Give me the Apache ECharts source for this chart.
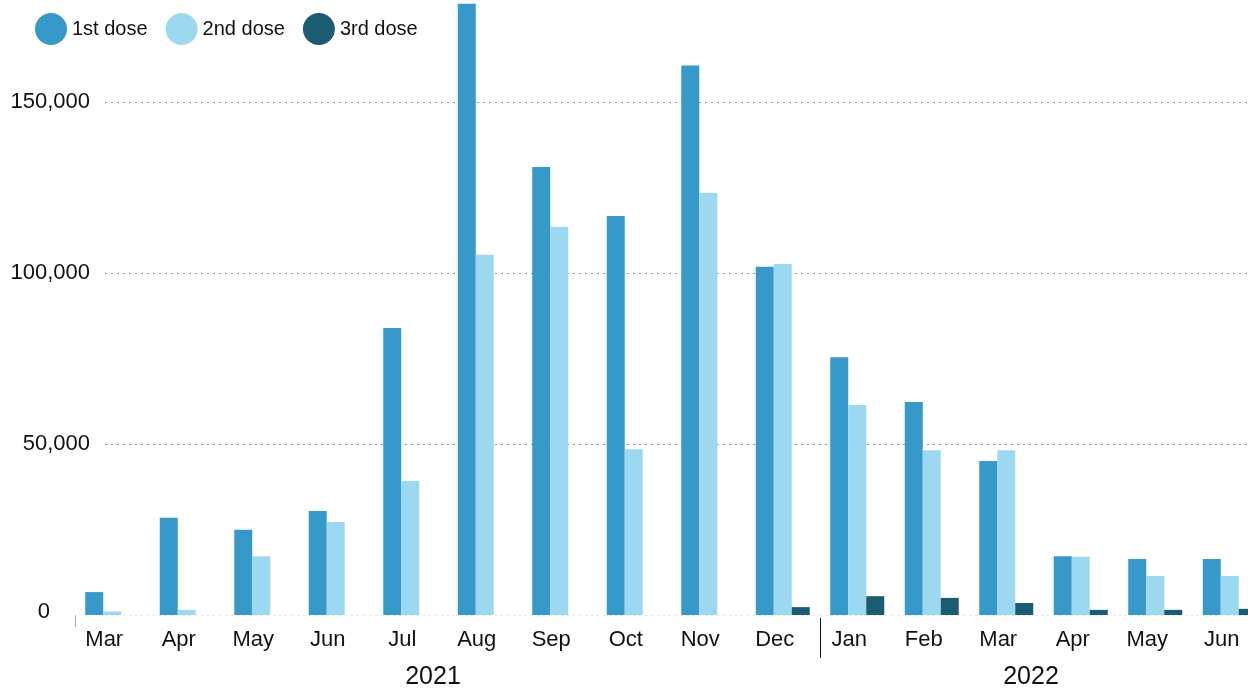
<!DOCTYPE html>
<html><head><meta charset="utf-8">
<script src="https://cdn.jsdelivr.net/npm/echarts@6/dist/echarts.min.js"></script>
<style>html,body{margin:0;padding:0;background:#fff}#c{width:1248px;height:688px}</style>
</head><body><div id="c"></div>
<script>
const months = ['Mar','Apr','May','Jun','Jul','Aug','Sep','Oct','Nov','Dec','Jan','Feb','Mar','Apr','May','Jun'];
const years = ['2021','2022'];
const seriesNames = ['1st dose','2nd dose','3rd dose'];
const dose1 = [6700, 28400, 24900, 30400, 83900, 178700, 131000, 116700, 160700, 101800, 75400, 62300, 45000, 17200, 16400, 16400];
const dose2 = [1000, 1500, 17200, 27200, 39200, 105300, 113500, 48500, 123400, 102600, 61400, 48200, 48200, 17000, 11400, 11400];
const dose3 = [null, null, null, null, null, null, null, null, null, 2300, 5500, 5000, 3500, 1500, 1500, 1800];
const yMax = 200000, yStep = 50000;
const yearStartIndex = 10; // first month of 2022

// boundary positions between month categories (0..n)
const boundaries = months.map((m, i) => String(i)).concat(String(months.length));

const FONT = "'Liberation Sans', Arial, Helvetica, sans-serif";
const chart = echarts.init(document.getElementById('c'), null, {renderer:'canvas'});
const GRID_TOP = -69, GRID_BOTTOM = 73;
const option = {
  animation:false,
  textStyle:{fontFamily:FONT},
  color:['#3799ca','#9cd8f0','#1a5c72'],
  legend:{left:30, top:8, icon:'circle', itemWidth:32, itemHeight:32, itemGap:18,
    textStyle:{fontSize:20,color:'#111',fontFamily:FONT}, data:seriesNames},
  grid:[
    {left:75,right:-19,top:GRID_TOP,bottom:GRID_BOTTOM,outerBoundsMode:'none',containLabel:false},
    {left:105,right:0,top:GRID_TOP,bottom:GRID_BOTTOM,outerBoundsMode:'none',containLabel:false}
  ],
  xAxis:[
    {type:'category',gridIndex:0,data:months,axisLine:{show:false},offset:5,
     axisTick:{show:true,interval:(i)=>i===0,length:12,lineStyle:{color:'#aaa'}},
     axisLabel:{fontSize:22,color:'#111',margin:9,padding:[0,16,0,0],interval:0,fontFamily:FONT}},
    {type:'category',gridIndex:0,data:boundaries,boundaryGap:false,position:'bottom',offset:3,axisLine:{show:false},axisLabel:{show:false},
     axisTick:{show:true,interval:(i)=>i===yearStartIndex,length:40,lineStyle:{color:'#111'}}},
    {type:'value',gridIndex:1,show:false,min:0,max:1}
  ],
  yAxis:[
    {type:'value',gridIndex:0,min:0,max:yMax,interval:yStep,show:false},
    {type:'value',gridIndex:1,min:0,max:yMax,interval:yStep,axisLine:{show:false},axisTick:{show:false},
     splitLine:{lineStyle:{type:[2,4],width:1.2,color:['#e4e4e4','#999','#999','#999','#999']}},
     axisLabel:{fontSize:22,color:'#111',margin:15,showMaxLabel:false,fontFamily:FONT,
       formatter:(v)=> v===0?'{z|0}':v.toLocaleString('en-US'),
       rich:{z:{fontSize:22,color:'#111',fontFamily:FONT,padding:[0,40,6,0]}}}}
  ],
  graphic:[
    {type:'text',x:433,y:677,style:{text:years[0],fontSize:25,fill:'#111',fontFamily:FONT,textAlign:'center',verticalAlign:'middle',textVerticalAlign:'middle'}},
    {type:'text',x:1031,y:677,style:{text:years[1],fontSize:25,fill:'#111',fontFamily:FONT,textAlign:'center',verticalAlign:'middle',textVerticalAlign:'middle'}}
  ],
  series:[
    {name:seriesNames[0],type:'bar',xAxisIndex:0,yAxisIndex:0,data:dose1,barWidth:18,barGap:'0%'},
    {name:seriesNames[1],type:'bar',xAxisIndex:0,yAxisIndex:0,data:dose2,barWidth:18,barGap:'0%'},
    {name:seriesNames[2],type:'bar',xAxisIndex:0,yAxisIndex:0,data:dose3,barWidth:18,barGap:'0%'}
  ]
};
chart.setOption(option);
</script>
</body></html>
